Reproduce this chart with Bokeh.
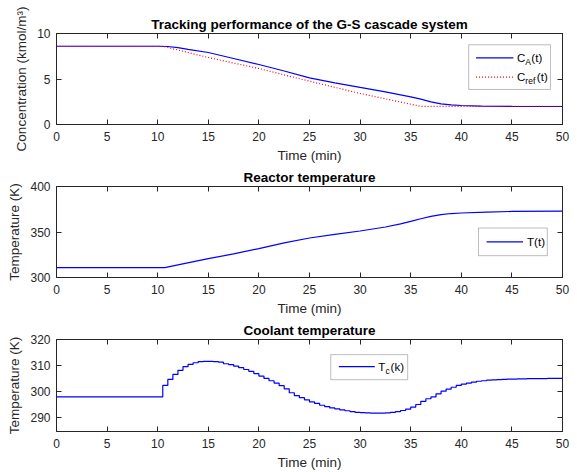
from bokeh.plotting import figure
from bokeh.layouts import column
from bokeh.models import (Range1d, LinearAxis, BoxAnnotation, Label, Arrow, FixedTicker,
                          CustomLabelingPolicy)
from bokeh.embed import file_html
from bokeh.resources import INLINE

# ---------------- data ----------------
t_ca = [0, 10, 11, 12, 13, 15, 17.5, 20, 22.5, 25, 27.5, 30, 32.5, 35, 36, 37, 38, 39, 40, 42, 45, 50]
ca = [8.6, 8.6, 8.57, 8.45, 8.25, 7.91, 7.25, 6.59, 5.88, 5.13, 4.58, 4.07, 3.59, 3.04, 2.78, 2.48, 2.27, 2.15, 2.09, 2.01, 1.99, 1.98]

t_ref = [0, 10.5, 12.5, 15, 20, 25, 30, 35, 36, 50]
cref = [8.6, 8.6, 8.05, 7.36, 6.15, 4.76, 3.41, 2.23, 2.0, 2.0]

t_T = [0, 10.7, 12, 15, 17.5, 20, 22.5, 25, 27.5, 30, 32.5, 34, 35, 36, 37, 38, 39, 40, 42.5, 45, 50]
T = [310.9, 310.9, 313.9, 320.8, 325.9, 331.8, 338.0, 343.4, 347.4, 351.1, 355.5, 358.9, 361.7, 364.6, 367.2, 369.0, 370.3, 370.9, 371.9, 372.6, 373.0]

t_k = [0, 10.5, 11, 11.5, 12, 12.5, 13, 13.5, 14, 14.5, 15, 15.5, 16, 16.5, 17, 17.5, 18, 18.5,
       19, 19.5, 20, 20.5, 21, 21.5, 22, 22.5, 23, 23.5, 24, 24.5, 25, 25.5, 26, 26.5, 27, 27.5,
       28, 28.5, 29, 29.5, 30, 30.5, 31, 31.5, 32, 32.5, 33, 33.5, 34, 34.5, 35, 35.5, 36, 36.5,
       37, 37.5, 38, 38.5, 39, 39.5, 40, 40.5, 41, 41.5, 42, 42.5, 43, 43.5, 44, 44.5, 45, 45.5,
       46, 46.5, 47, 47.5, 48, 48.5, 49, 49.5]
Tc = [298.0, 302.4, 304.7, 306.6, 308.2, 309.6, 310.5, 311.1, 311.5, 311.6, 311.6, 311.5, 311.3, 310.7,
      310.4, 309.8, 309.2, 308.5, 307.8, 306.9, 306.0, 305.1, 304.2, 303.3, 302.3, 301.1, 299.6, 298.5,
      297.7, 296.9, 296.1, 295.5, 294.8, 294.3, 293.8, 293.4, 293.0, 292.7, 292.4, 292.1, 292.0, 291.9,
      291.8, 291.8, 291.8, 291.9, 292.1, 292.4, 292.8, 293.3, 294.1, 295.1, 296.3, 297.3, 298.0, 299.2,
      300.2, 301.0, 301.7, 302.4, 302.9, 303.3, 303.7, 304.0, 304.2, 304.4, 304.5, 304.6, 304.7, 304.8,
      304.8, 304.9, 304.9, 305.0, 305.0, 305.0, 305.0, 305.1, 305.1, 305.1]

x_ticks = [0, 5, 10, 15, 20, 25, 30, 35, 40, 45, 50]
FONT = "Liberation Sans"
AX = "#262626"

NO_LABELS = "for (let i = 0; i < indices.size; i++) { indices.unset(i) }\nreturn indices"


def make_fig(height, yr, yticks, ylabel, title, top, bottom):
    p = figure(width=577, height=height, x_range=Range1d(0, 50), y_range=Range1d(*yr),
               output_backend="svg", toolbar_location=None,
               min_border_left=56, min_border_right=15, min_border_top=top, min_border_bottom=bottom,
               x_axis_label="Time (min)", y_axis_label=ylabel, title=title)
    p.title.text_font = FONT
    p.title.text_font_size = "13.5px"
    p.title.text_font_style = "bold"
    p.title.text_color = "black"
    p.title.align = "center"
    p.title.standoff = 4
    p.grid.visible = False
    p.outline_line_color = AX
    p.background_fill_color = "white"
    p.border_fill_color = "white"
    p.add_layout(LinearAxis(major_label_policy=CustomLabelingPolicy(code=NO_LABELS)), "above")
    p.add_layout(LinearAxis(major_label_policy=CustomLabelingPolicy(code=NO_LABELS)), "right")
    for ax in p.xaxis:
        ax.ticker = FixedTicker(ticks=x_ticks)
    for ax in p.yaxis:
        ax.ticker = FixedTicker(ticks=yticks)
    for ax in p.axis:
        ax.axis_line_color = AX
        ax.major_tick_line_color = AX
        ax.major_tick_in = 5
        ax.major_tick_out = 0
        ax.minor_tick_line_color = None
        ax.major_label_text_font = FONT
        ax.major_label_text_font_size = "12px"
        ax.major_label_text_color = AX
        ax.axis_label_text_font = FONT
        ax.axis_label_text_font_size = "13.5px"
        ax.axis_label_text_font_style = "normal"
        ax.axis_label_text_color = AX
    p.below[0].major_label_standoff = 7
    p.below[0].axis_label_standoff = 4
    p.left[0].major_label_standoff = 6
    p.left[0].axis_label_standoff = 5
    for ax in (p.above[0], p.right[0]):
        ax.major_label_text_font_size = "0px"
        ax.major_label_standoff = 0
        ax.axis_label = None
    return p


def legend_box(p, l, r, t, b):
    p.add_layout(BoxAnnotation(left=l, right=r, top=t, bottom=b, fill_color="white", fill_alpha=1.0,
                               line_color=AX, line_width=1, level="annotation"))


def legend_line(p, x0, x1, y, color, dash="solid"):
    p.add_layout(Arrow(end=None, x_start=x0, y_start=y, x_end=x1, y_end=y, line_color=color,
                       line_width=1.3, line_dash=dash))


def legend_text(p, x, y, main, sub=None, tail=None, main_w=8.0, sub_w=6.0):
    p.add_layout(Label(x=x, y=y, text=main, text_font=FONT, text_font_size="11.5px", text_color="black",
                       text_baseline="middle", text_align="left"))
    off = main_w
    if sub is not None:
        p.add_layout(Label(x=x, y=y, x_offset=off, y_offset=-4, text=sub, text_font=FONT,
                           text_font_size="8.5px", text_color="black", text_baseline="middle",
                           text_align="left"))
        off += sub_w
        p.add_layout(Label(x=x, y=y, x_offset=off, text=tail, text_font=FONT, text_font_size="11.5px",
                           text_color="black", text_baseline="middle", text_align="left"))


# -------- plot 1 --------
p1 = make_fig(165, (0, 10), [0, 5, 10], "Concentration (kmol/m³)",
              "Tracking performance of the G-S cascade system", 33, 41)
p1.line(t_ca, ca, line_color="blue", line_width=1.2)
p1.line(t_ref, cref, line_color="red", line_width=1.2, line_dash="1 2")
legend_box(p1, 40.73, 48.81, 8.76, 3.85)
legend_line(p1, 41.45, 45.15, 7.33, "blue")
legend_line(p1, 41.45, 45.15, 5.2, "red", "1 2")
legend_text(p1, 45.51, 7.33, "C", "A", "(t)", main_w=8.3, sub_w=6.0)
legend_text(p1, 45.51, 5.2, "C", "ref", "(t)", main_w=8.3, sub_w=11.5)

# -------- plot 2 --------
p2 = make_fig(153, (300, 400), [300, 350, 400], "Temperature (K)", "Reactor temperature", 21, 41)
p2.line(t_T, T, line_color="blue", line_width=1.2)
legend_box(p2, 41.7, 48.5, 354.4, 324.0)
legend_line(p2, 42.5, 46.1, 339.2, "blue")
legend_text(p2, 46.5, 339.2, "T(t)")

# -------- plot 3 --------
p3 = make_fig(154, (284.75, 320), [290, 300, 310, 320], "Temperature (K)", "Coolant temperature", 21, 41)
p3.step(t_k + [50], Tc + [Tc[-1]], mode="after", line_color="blue", line_width=1.2)
legend_box(p3, 27.1, 34.7, 314.2, 304.6)
legend_line(p3, 27.9, 31.45, 309.6, "blue")
legend_text(p3, 31.8, 309.6, "T", "c", "(k)", main_w=7.3, sub_w=5.0)

layout = column(p1, p2, p3, spacing=0)
open("out.html", "w").write(file_html(layout, INLINE))
